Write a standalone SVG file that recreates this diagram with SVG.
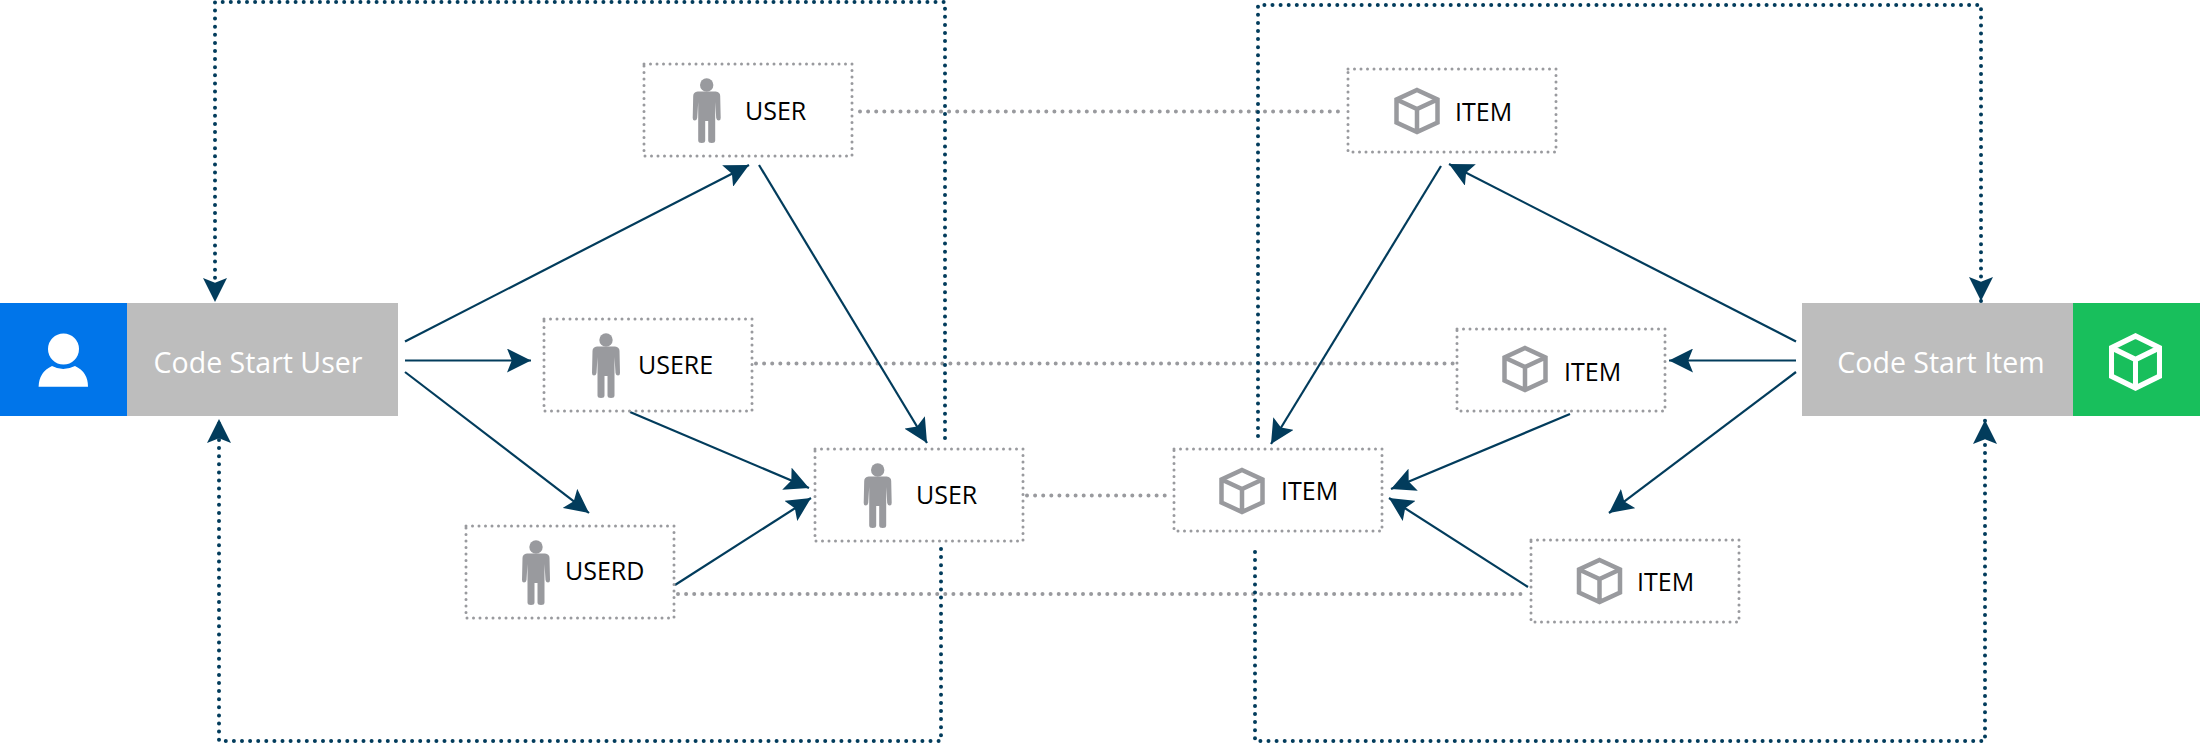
<svg xmlns="http://www.w3.org/2000/svg" width="2200" height="744" viewBox="0 0 2200 744">
<style>
.box{fill:#fff;stroke:#999a9e;stroke-width:3;stroke-dasharray:0 6.5;stroke-linecap:round}
.flow{fill:none;stroke:#023c5c;stroke-width:2.2;marker-end:url(#ah)}
.loop{fill:none;stroke:#023c5c;stroke-width:4;stroke-dasharray:0 8.1;stroke-linecap:round;marker-end:url(#ah)}
.link{fill:none;stroke:#999a9e;stroke-width:4;stroke-dasharray:0 8.1;stroke-linecap:round}
.lbl{font-family:"Open Sans","Noto Sans",sans-serif;font-size:25px;fill:#000}
.hdr{font-family:"Open Sans","Noto Sans",sans-serif;font-size:28.5px;fill:#fff;text-anchor:middle}
.cube{fill:none;stroke:#999a9e;stroke-width:4.5;stroke-linejoin:miter}
</style>
<defs>
<marker id="ah" markerUnits="userSpaceOnUse" markerWidth="24" markerHeight="24" refX="20" refY="10" orient="auto" viewBox="0 0 20 20">
<path d="M0 0L20 10L0 20L4 10Z" fill="#023c5c"/>
</marker>
<path id="person" fill="#999a9e" d="M-9 6.5H9Q13.5 7 13.5 11L14 33Q14 35.5 12 35.5Q10 35.5 9.5 33L8.5 17V55.5Q8.5 58 5 58Q1.5 58 1.5 55.5V36H-1.5V55.5Q-1.5 58-5 58Q-8.5 58-8.5 55.5V17L-9.5 33Q-10 35.5-12 35.5Q-14 35.5-14 33L-13.5 11Q-13.5 7-9 6.5Z"/>
<path id="cubeShape" d="M0-21L20.5-11.5V11.5L0 21L-20.5 11.5V-11.5ZM-20.5-11.5L0-2L20.5-11.5M0-2V21"/>
</defs>

<g id="connectors">
<path class="link" d="M860 111.5H1344"/>
<path class="link" d="M756 363.5H1455"/>
<path class="link" d="M1027 495.5H1170"/>
<path class="link" d="M678 594H1524"/>
<path class="flow" d="M405 341.5L749 165"/>
<path class="flow" d="M405 360.5H531"/>
<path class="flow" d="M405 372L589 513"/>
<path class="flow" d="M759 165L927 443"/>
<path class="flow" d="M630 412L809 488"/>
<path class="flow" d="M675 585L811 498"/>
<path class="flow" d="M1796 341.5L1449 164"/>
<path class="flow" d="M1796 360.5H1669"/>
<path class="flow" d="M1796 372L1609 513"/>
<path class="flow" d="M1441 166L1271 444"/>
<path class="flow" d="M1570 414L1391 489"/>
<path class="flow" d="M1528 587L1389 498"/>
<path class="loop" d="M945 438V2H215V302"/>
<path class="loop" d="M941 549V741H219V419"/>
<path class="loop" d="M1258 436V5H1981V301"/>
<path class="loop" d="M1255 552V741H1985V420"/>
</g>

<g id="code-start-user">
<rect x="0" y="303" width="127" height="113" fill="#0075ea"/>
<rect x="127" y="303" width="271" height="113" fill="#bdbdbd"/>
<circle cx="63.5" cy="349" r="15.5" fill="#fff"/>
<path d="M38.6 386.7Q39 372 52 366Q63 372 75 366Q88 372 88 386.7Z" fill="#fff"/>
<text class="hdr" x="258" y="373">Code Start User</text>
</g>

<g id="code-start-item">
<rect x="1802" y="303" width="271" height="113" fill="#bdbdbd"/>
<rect x="2073" y="303" width="127" height="113" fill="#18bf5c"/>
<use href="#cubeShape" transform="translate(2135.5 362) scale(1.17 1.24)" fill="none" stroke="#fff" stroke-width="4.3"/>
<text class="hdr" x="1941" y="373">Code Start Item</text>
</g>

<g id="user-top"><rect class="box" x="644" y="64" width="208" height="92"/><circle cx="706.7" cy="85" r="6.7" fill="#999a9e"/><use href="#person" x="706.7" y="85"/><text class="lbl" x="745" y="120">USER</text></g>
<g id="user-e"><rect class="box" x="544" y="319" width="208" height="92"/><circle cx="606" cy="340" r="6.7" fill="#999a9e"/><use href="#person" x="606" y="340"/><text class="lbl" x="638" y="374">USERE</text></g>
<g id="user-d"><rect class="box" x="466" y="526" width="208" height="92"/><circle cx="536" cy="547" r="6.7" fill="#999a9e"/><use href="#person" x="536" y="547"/><text class="lbl" x="565" y="580">USERD</text></g>
<g id="user-mid"><rect class="box" x="815" y="449" width="208" height="92"/><circle cx="877.7" cy="470" r="6.7" fill="#999a9e"/><use href="#person" x="877.7" y="470"/><text class="lbl" x="916" y="504">USER</text></g>

<g id="item-top"><rect class="box" x="1348" y="69" width="208" height="83"/><use class="cube" href="#cubeShape" x="1417" y="111"/><text class="lbl" x="1455" y="121">ITEM</text></g>
<g id="item-2"><rect class="box" x="1457" y="329" width="208" height="82"/><use class="cube" href="#cubeShape" x="1525" y="369"/><text class="lbl" x="1564" y="381">ITEM</text></g>
<g id="item-mid"><rect class="box" x="1174" y="449" width="208" height="82"/><use class="cube" href="#cubeShape" x="1242" y="491"/><text class="lbl" x="1281" y="500">ITEM</text></g>
<g id="item-bottom"><rect class="box" x="1531" y="540" width="208" height="82"/><use class="cube" href="#cubeShape" x="1599.5" y="581"/><text class="lbl" x="1637" y="591">ITEM</text></g>
</svg>
